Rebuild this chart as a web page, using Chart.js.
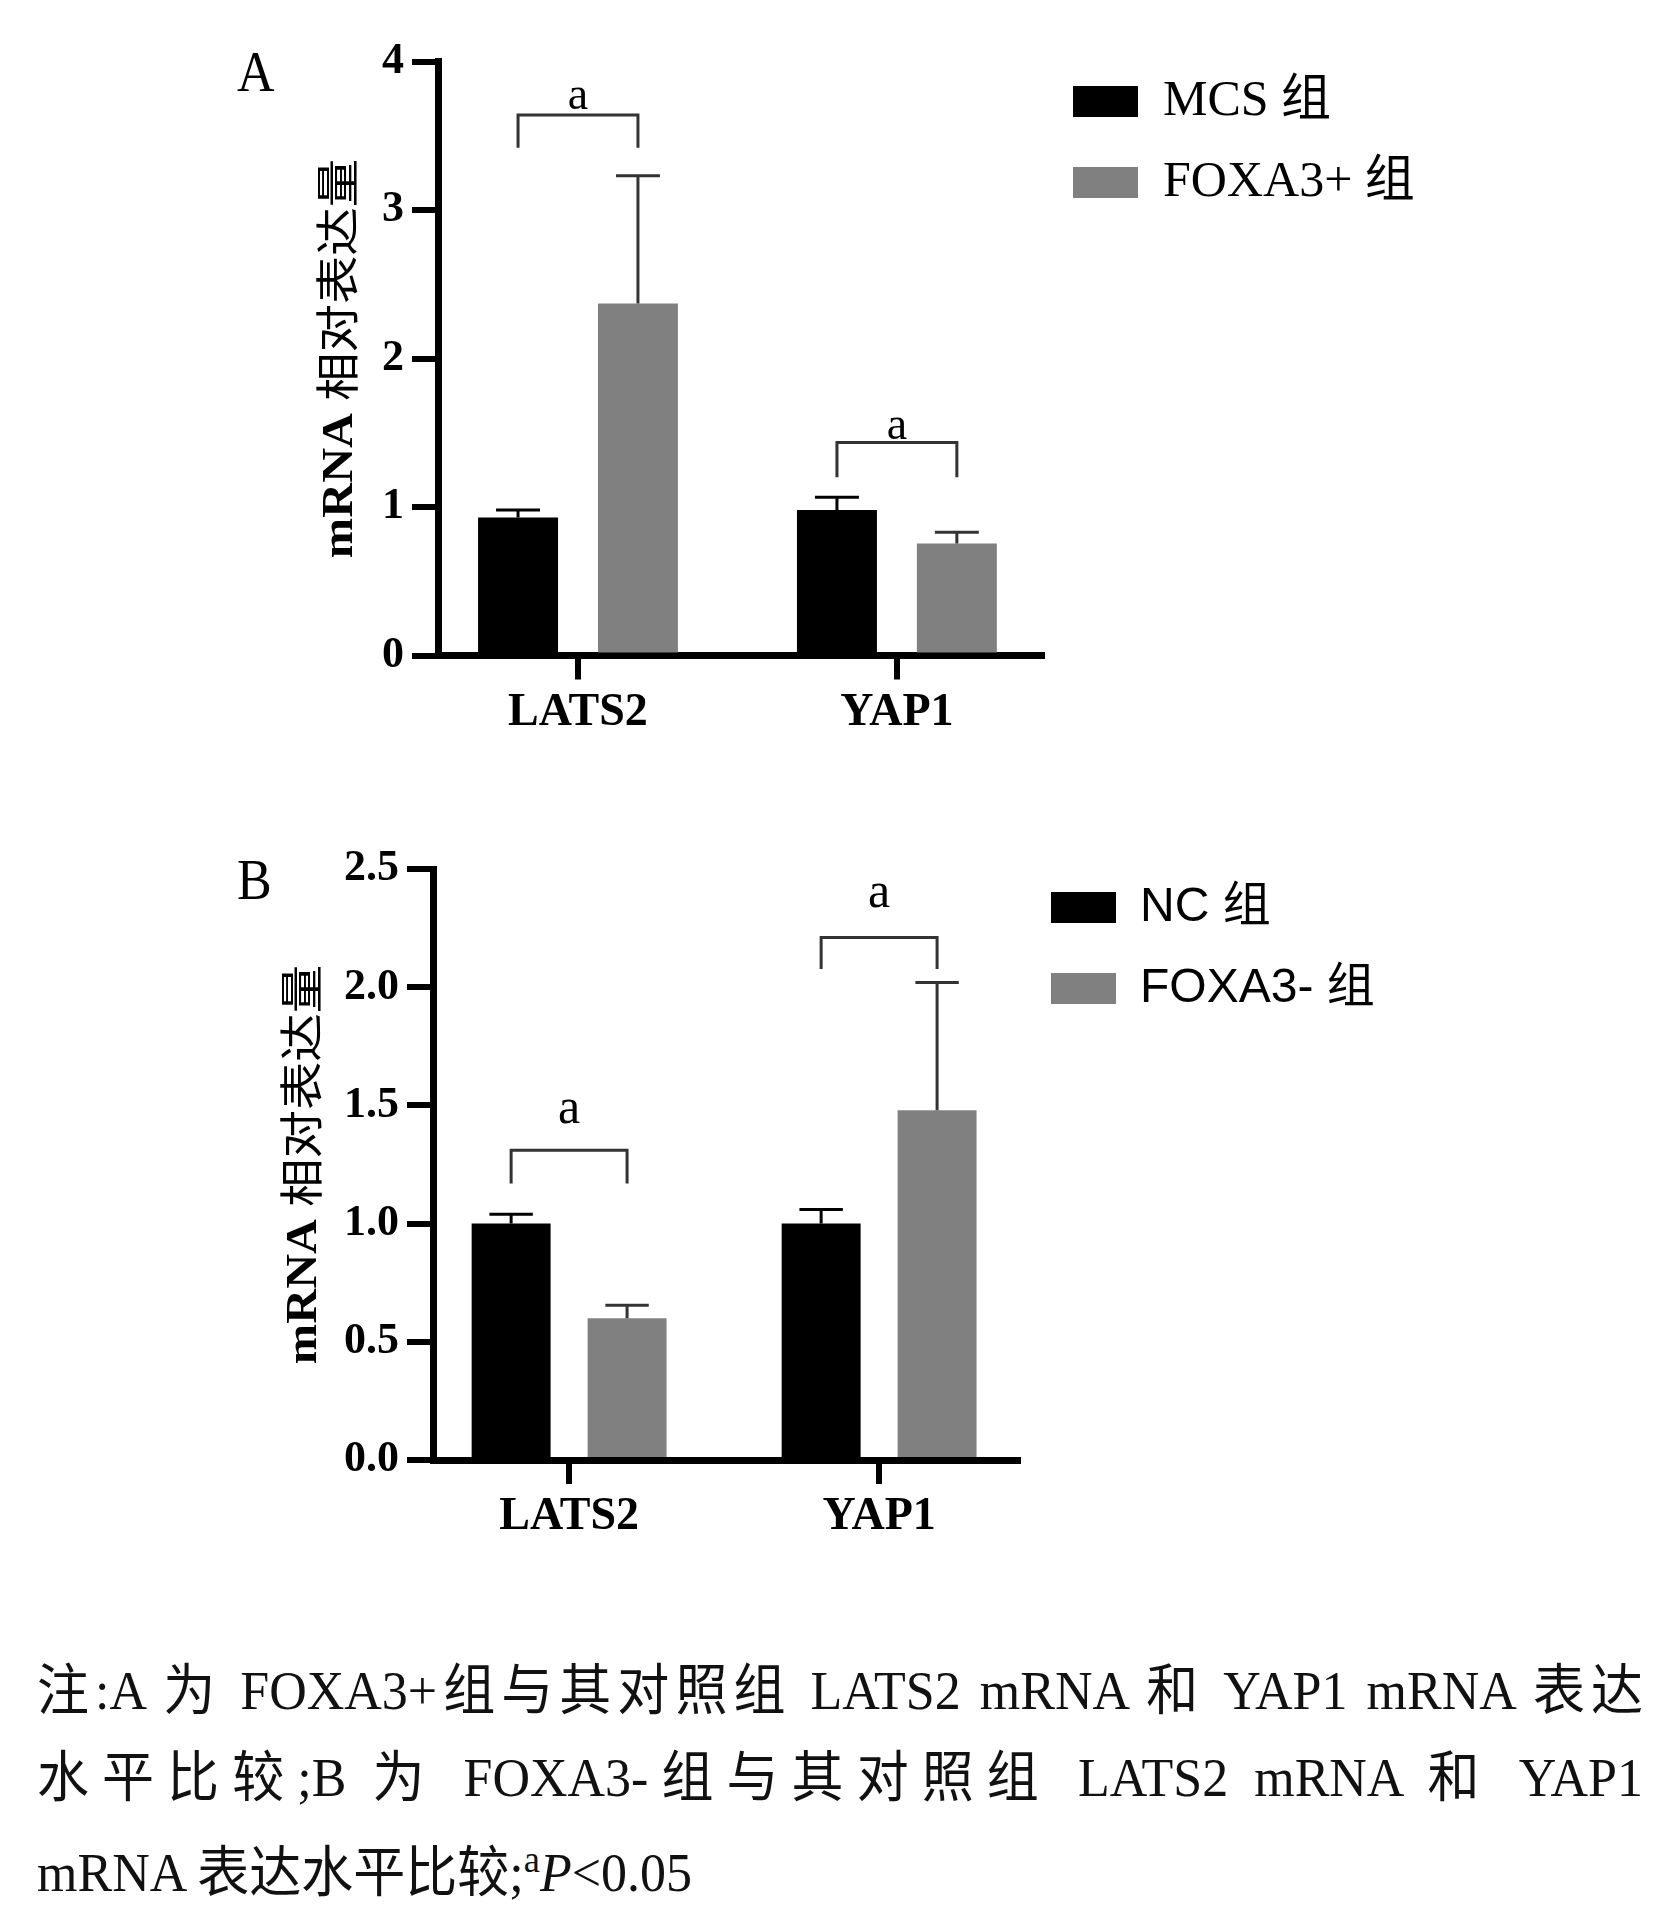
<!DOCTYPE html>
<html>
<head>
<meta charset="utf-8">
<script src="https://cdn.jsdelivr.net/npm/chart.js@4.4.1/dist/chart.umd.min.js"></script>
<style>
html,body{margin:0;padding:0;background:#fff;width:1674px;height:1923px;overflow:hidden;}
#wrap{position:relative;width:1674px;height:1923px;background:#fff;}
canvas{position:absolute;left:0;}
.panel{position:absolute;left:237px;font-family:'Liberation Serif',serif;font-size:52px;line-height:1;color:#000;transform-origin:0 0;transform:scaleY(1.1);}
.cap{position:absolute;left:37px;width:1606px;height:60px;font-family:'Liberation Serif','Noto Sans CJK SC',serif;font-size:52px;line-height:60px;color:#111;transform-origin:0 50%;transform:scaleY(1.05);}
.just{text-align:justify;text-align-last:justify;}
.left{text-align:left;white-space:nowrap;}
sup{font-size:70%;vertical-align:0.5em;line-height:0;}
</style>
</head>
<body>
<div id="wrap">
  <canvas id="chartA" width="1674" height="800" style="top:0;width:1674px;height:800px;"></canvas>
  <canvas id="chartB" width="1674" height="800" style="top:800px;width:1674px;height:800px;"></canvas>
  <div class="panel" style="top:44px;">A</div>
  <div class="panel" style="top:852px;">B</div>
  <div class="cap just" lang="zh" style="top:1661px;">注:A 为 FOXA3+组与其对照组 LATS2 mRNA 和 YAP1 mRNA 表达</div>
  <div class="cap just" lang="zh" style="top:1748px;">水平比较;B 为 FOXA3-组与其对照组 LATS2 mRNA 和 YAP1</div>
  <div class="cap left" lang="zh" style="top:1843px;">mRNA 表达水平比较;<sup>a</sup><i>P</i>&lt;0.05</div>
</div>
<script>
// ---------- data ----------
const categories = ['LATS2', 'YAP1'];
const yTitleLatin = 'mRNA ';
const yTitleCJK = '相对表达量';
const sigMark = 'a';

// Panel A
const aLegend = ['MCS 组', 'FOXA3+ 组'];
const aCtrl = [0.93, 0.98];
const aCtrlSD = [0.05, 0.085];
const aFox = [2.37, 0.755];
const aFoxSD = [0.86, 0.075];
const aTicks = [0, 1, 2, 3, 4];
const aTickLabels = ['0', '1', '2', '3', '4'];
const aSigTop = [3.64, 1.435];
const aSigLeg = [3.42, 1.20];
const aSigText = [3.68, 1.46];

// Panel B
const bLegend = ['NC 组', 'FOXA3- 组'];
const bCtrl = [1.00, 1.00];
const bCtrlSD = [0.04, 0.06];
const bFox = [0.60, 1.48];
const bFoxSD = [0.055, 0.54];
const bTicks = [0, 0.5, 1.0, 1.5, 2.0, 2.5];
const bTickLabels = ['0.0', '0.5', '1.0', '1.5', '2.0', '2.5'];
const bSigTop = [1.31, 2.21];
const bSigLeg = [1.17, 2.077];
const bSigText = [1.427, 2.341];

// ---------- plugin: error bars, significance brackets, y title ----------
const marks = {
  id: 'marks',
  afterLayout(chart) {
    // let the legend text run past its fixed layout width without being clipped
    const lg = chart.legend;
    if (lg) { lg.right = chart.width; lg.width = lg.right - lg.left; }
  },
  afterDatasetsDraw(chart, args, o) {
    const ctx = chart.ctx, ys = chart.scales.y;
    ctx.save();
    ctx.lineCap = 'butt';
    chart.data.datasets.forEach((d, di) => {
      const meta = chart.getDatasetMeta(di);
      meta.data.forEach((bar, j) => {
        const yTop = ys.getPixelForValue(d.data[j].y + o.errors[di][j]);
        const half = bar.width * o.capRatio / 2;
        ctx.strokeStyle = o.errColor[di];
        ctx.lineWidth = o.errWidth;
        ctx.beginPath();
        ctx.moveTo(bar.x, bar.y);
        ctx.lineTo(bar.x, yTop);
        ctx.moveTo(bar.x - half, yTop);
        ctx.lineTo(bar.x + half, yTop);
        ctx.stroke();
      });
    });
    const m0 = chart.getDatasetMeta(0), m1 = chart.getDatasetMeta(1);
    o.sigTop.forEach((t, j) => {
      const x1 = m0.data[j].x, x2 = m1.data[j].x;
      const yt = ys.getPixelForValue(t), yl = ys.getPixelForValue(o.sigLeg[j]);
      ctx.strokeStyle = '#333';
      ctx.lineWidth = 3;
      ctx.beginPath();
      ctx.moveTo(x1, yl); ctx.lineTo(x1, yt); ctx.lineTo(x2, yt); ctx.lineTo(x2, yl);
      ctx.stroke();
      ctx.fillStyle = '#000';
      ctx.font = o.sigFont;
      ctx.textAlign = 'center';
      ctx.textBaseline = 'alphabetic';
      ctx.fillText(o.sigMark, (x1 + x2) / 2, ys.getPixelForValue(o.sigText[j]));
    });
    ctx.restore();
  },
  afterDraw(chart, args, o) {
    const ctx = chart.ctx, ca = chart.chartArea;
    ctx.save();
    ctx.font = o.titleFont1; const w1 = ctx.measureText(o.title1).width;
    ctx.font = o.titleFont2; const w2 = ctx.measureText(o.title2).width;
    const cx = ca.left - o.titleOffset, cy = (ca.top + ca.bottom) / 2;
    ctx.translate(cx, cy);
    ctx.rotate(-Math.PI / 2);
    ctx.scale(o.titleStretch, 1);
    ctx.fillStyle = '#000';
    ctx.textAlign = 'left';
    ctx.textBaseline = 'alphabetic';
    const x0 = -(w1 + w2) / 2;
    ctx.font = o.titleFont1; ctx.fillText(o.title1, x0, o.titleBase);
    ctx.font = o.titleFont2; ctx.fillText(o.title2, x0 + w1, o.titleBase + 2);
    ctx.restore();
  }
};
Chart.register(marks);

function build(id, p) {
  const datasets = [
    { label: p.legend[0], data: categories.map((c, i) => ({ x: i, y: p.ctrl[i] })), backgroundColor: '#000000', borderWidth: 0 },
    { label: p.legend[1], data: categories.map((c, i) => ({ x: i, y: p.fox[i] })), backgroundColor: '#808080', borderWidth: 0 }
  ];
  return new Chart(document.getElementById(id), {
    type: 'bar',
    data: { datasets },
    options: {
      responsive: false,
      animation: false,
      events: [],
      devicePixelRatio: 1,
      layout: { padding: p.pad },
      datasets: { bar: { categoryPercentage: p.catPct, barPercentage: p.barPct } },
      scales: {
        x: {
          type: 'linear', min: p.xMin, max: p.xMax, bounds: 'data', offset: false,
          afterBuildTicks: s => { s.ticks = categories.map((c, i) => ({ value: i })); },
          afterFit: s => { s.height = p.xHeight; },
          ticks: {
            callback: (v, i) => categories[i],
            color: '#000', padding: 6, maxRotation: 0, autoSkip: false,
            font: { family: "'Liberation Serif'", size: 46, weight: 'bold' }
          },
          grid: { offset: false, drawOnChartArea: false, drawTicks: true, tickLength: 24, lineWidth: 6, color: '#000' },
          border: { display: true, width: 7, color: '#000' }
        },
        y: {
          type: 'linear', min: 0, max: p.yMax,
          afterBuildTicks: s => { s.ticks = p.ticks.map(v => ({ value: v })); },
          afterFit: s => { s.width = p.yWidth; },
          ticks: {
            callback: (v, i) => p.tickLabels[i],
            color: '#000', padding: 8,
            font: { family: "'Liberation Serif'", size: p.tickSize, weight: 'bold' }
          },
          grid: { offset: false, drawOnChartArea: false, drawTicks: true, tickLength: 26, lineWidth: 6, color: '#000' },
          border: { display: true, width: 7, color: '#000' }
        }
      },
      plugins: {
        tooltip: { enabled: false },
        title: { display: true, text: ' ', font: { size: 1, lineHeight: 1 }, padding: { top: 0, bottom: p.spacer - 1 } },
        legend: {
          display: true, position: 'right', align: 'start', fullSize: true, maxWidth: 200,
          labels: {
            boxWidth: 65, boxHeight: 31, padding: p.legPad, color: '#000',
            font: { family: p.legFamily, size: p.legSize }
          }
        },
        marks: {
          errors: [p.ctrlSD, p.foxSD],
          errColor: ['#000', '#333'],
          errWidth: 3,
          capRatio: 0.55,
          sigTop: p.sigTop, sigLeg: p.sigLeg, sigText: p.sigText,
          sigMark: sigMark,
          sigFont: p.sigFont,
          title1: yTitleLatin, title2: yTitleCJK,
          titleFont1: "bold 44px 'Liberation Serif'",
          titleFont2: "44px 'Noto Sans CJK SC'",
          titleOffset: p.titleOffset,
          titleStretch: 1.1,
          titleBase: 16
        }
      }
    }
  });
}

build('chartA', {
  legend: aLegend, ctrl: aCtrl, fox: aFox, ctrlSD: aCtrlSD, foxSD: aFoxSD,
  ticks: aTicks, tickLabels: aTickLabels, yMax: 4, tickSize: 44,
  sigTop: aSigTop, sigLeg: aSigLeg, sigText: aSigText, sigFont: "46px 'Liberation Serif'",
  pad: { left: 288, right: 432, top: 45.5, bottom: 44.5 },
  yWidth: 150, xHeight: 100, spacer: 16,
  legPad: 31, legSize: 50, legFamily: "'Liberation Serif', 'Noto Sans CJK SC'",
  xMin: -0.439, xMax: 1.455, catPct: 0.752, barPct: 0.667,
  titleOffset: 102
});

build('chartB', {
  legend: bLegend, ctrl: bCtrl, fox: bFox, ctrlSD: bCtrlSD, foxSD: bFoxSD,
  ticks: bTicks, tickLabels: bTickLabels, yMax: 2.5, tickSize: 44,
  sigTop: bSigTop, sigLeg: bSigLeg, sigText: bSigText, sigFont: "50px 'Liberation Serif'",
  pad: { left: 283, right: 456, top: 50.5, bottom: 40 },
  yWidth: 150, xHeight: 100, spacer: 18.5,
  legPad: 33, legSize: 48, legFamily: "'Liberation Sans', 'Noto Sans CJK SC'",
  xMin: -0.439, xMax: 1.448, catPct: 0.748, barPct: 0.681,
  titleOffset: 133
});
</script>
</body>
</html>
